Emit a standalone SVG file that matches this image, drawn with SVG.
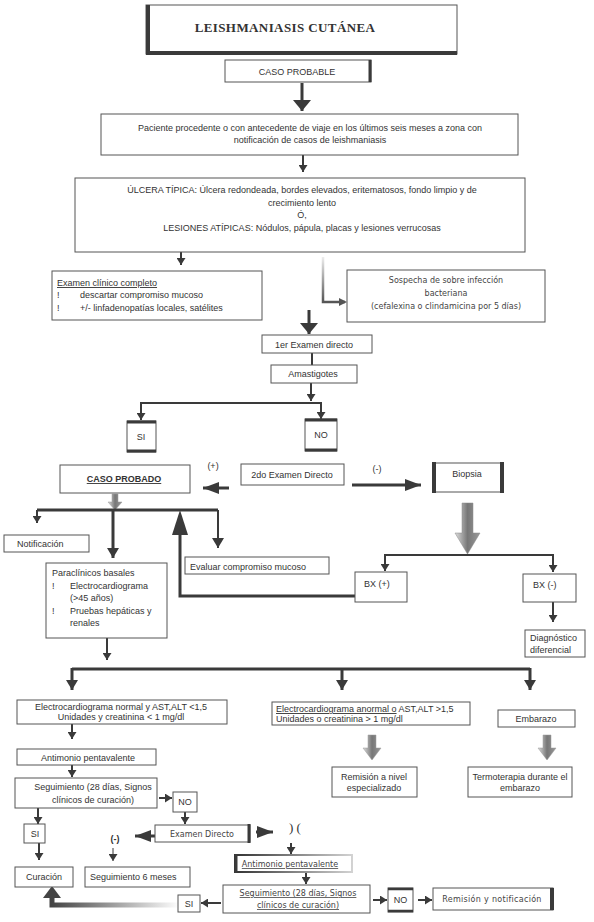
<svg xmlns="http://www.w3.org/2000/svg" width="594" height="922" viewBox="0 0 594 922">
<style>
.bx{fill:#fff;stroke:#555;stroke-width:1}
.hv{fill:none;stroke:#3a3a3a}
.t{font-family:"Liberation Sans",Arial,sans-serif;font-size:9px;fill:#333}
.d{font-family:"DejaVu Sans",sans-serif;font-size:8px;fill:#444}
.c{text-anchor:middle}
.u{text-decoration:underline}
.ln{fill:none;stroke:#3a3a3a;stroke-width:2}
.lt{fill:none;stroke:#3a3a3a;stroke-width:3}
</style>
<defs>
<marker id="ah" markerUnits="userSpaceOnUse" markerWidth="9" markerHeight="9" refX="7" refY="4.5" orient="auto"><path d="M0,0 L7,4.5 L0,9 z" fill="#3a3a3a"/></marker>
<marker id="av" markerUnits="userSpaceOnUse" markerWidth="10" markerHeight="12" refX="10" refY="6" orient="auto"><path d="M0,0 L10,6 L0,12 z" fill="#3a3a3a"/></marker>
<marker id="al" markerUnits="userSpaceOnUse" markerWidth="12" markerHeight="18" refX="11" refY="9" orient="auto"><path d="M0,0 L11,9 L0,18 z" fill="#3a3a3a"/></marker>
<marker id="am" markerUnits="userSpaceOnUse" markerWidth="16" markerHeight="12" refX="16" refY="6" orient="auto"><path d="M0,0 L16,6 L0,12 z" fill="#3a3a3a"/></marker>
<linearGradient id="gv" gradientUnits="userSpaceOnUse" x1="0" y1="257" x2="0" y2="302"><stop offset="0" stop-color="#eee"/><stop offset="1" stop-color="#555"/></linearGradient>
<linearGradient id="gb" x1="0" y1="0" x2="1" y2="0"><stop offset="0" stop-color="#ddd"/><stop offset="0.5" stop-color="#777"/><stop offset="1" stop-color="#999"/></linearGradient>
<linearGradient id="gh" gradientUnits="userSpaceOnUse" x1="52" y1="0" x2="180" y2="0"><stop offset="0" stop-color="#444"/><stop offset="1" stop-color="#fff"/></linearGradient>
<linearGradient id="ga" gradientUnits="userSpaceOnUse" x1="235" y1="0" x2="360" y2="0"><stop offset="0" stop-color="#333"/><stop offset="1" stop-color="#ddd"/></linearGradient>
</defs>

<g id="connectors">
<line class="lt" x1="302" y1="83" x2="302" y2="111" marker-end="url(#al)"/>
<line class="ln" x1="303" y1="155" x2="303" y2="172" marker-end="url(#ah)"/>
<line class="ln" x1="181" y1="252" x2="181" y2="265" marker-end="url(#ah)"/>
<path d="M323,257 V302 H345" fill="none" stroke="url(#gv)" stroke-width="2.5"/>
<path d="M339,298 L347,302 L339,306 z" fill="#555"/>
<line class="lt" x1="309" y1="310" x2="309" y2="334" marker-end="url(#al)"/>
<line class="ln" x1="312" y1="353" x2="312" y2="365"/>
<line class="ln" x1="311" y1="383" x2="311" y2="401" marker-end="url(#ah)"/>
<path class="ln" d="M141,419 V403 H321 V419"/>
<line class="ln" x1="141" y1="405" x2="141" y2="420" marker-end="url(#ah)"/>
<line class="ln" x1="321" y1="405" x2="321" y2="419" marker-end="url(#ah)"/>
<line class="lt" x1="229" y1="488" x2="203" y2="488" marker-end="url(#am)"/>
<line class="lt" x1="352" y1="485" x2="421" y2="485" marker-end="url(#am)"/>
<path d="M462,503 H473 V533 H480 L467.5,554 L455,533 H462 z" fill="url(#gb)" stroke="#888" stroke-width="0.5"/>
<path class="ln" d="M385,570 V555 H553 V570"/>
<line class="ln" x1="385" y1="556" x2="385" y2="571" marker-end="url(#ah)"/>
<line class="ln" x1="553" y1="556" x2="553" y2="572" marker-end="url(#ah)"/>
<line class="ln" x1="553" y1="602" x2="553" y2="622" marker-end="url(#ah)"/>
<path class="lt" d="M355,596 H180 V528"/>
<path d="M180,510 L188,535 L172,535 z" fill="#3a3a3a"/>
<path d="M112,494 H118 V502 H122 L115,510 L108,502 H112 z" fill="url(#gb)" stroke="#999" stroke-width="0.5"/>
<path class="lt" d="M37,510 H218"/>
<line class="ln" x1="37" y1="510" x2="37" y2="523" marker-end="url(#ah)"/>
<line class="lt" x1="113" y1="510" x2="113" y2="558" marker-end="url(#av)"/>
<line class="ln" x1="218" y1="510" x2="218" y2="548" marker-end="url(#av)"/>
<line class="ln" x1="107" y1="638" x2="107" y2="660" marker-end="url(#ah)"/>
<path class="lt" d="M72,669 H530"/>
<line class="lt" x1="72" y1="668" x2="72" y2="690" marker-end="url(#av)"/>
<line class="lt" x1="342" y1="668" x2="342" y2="690" marker-end="url(#av)"/>
<line class="lt" x1="530" y1="668" x2="530" y2="690" marker-end="url(#av)"/>
<line class="ln" x1="72" y1="724" x2="72" y2="739" marker-end="url(#ah)"/>
<line class="ln" x1="72" y1="765" x2="72" y2="777" marker-end="url(#ah)"/>
<line class="ln" x1="159" y1="798" x2="172" y2="798" marker-end="url(#ah)"/>
<line class="ln" x1="38" y1="808" x2="38" y2="824" marker-end="url(#ah)"/>
<line class="ln" x1="39" y1="843" x2="39" y2="860" marker-end="url(#ah)"/>
<line class="ln" x1="185" y1="812" x2="185" y2="824" marker-end="url(#ah)"/>
<line class="lt" x1="155" y1="836" x2="135" y2="836" marker-end="url(#am)"/>
<line x1="113" y1="848" x2="113" y2="861" stroke="#3a3a3a" stroke-width="1" marker-end="url(#ah)"/>
<line class="lt" x1="256" y1="832" x2="273" y2="832" marker-end="url(#am)"/>
<line class="ln" x1="291" y1="843" x2="291" y2="854" marker-end="url(#ah)"/>
<line class="ln" x1="306" y1="872" x2="306" y2="884" marker-end="url(#ah)"/>
<line class="ln" x1="373" y1="900" x2="387" y2="900" marker-end="url(#ah)"/>
<line class="ln" x1="418" y1="900" x2="432" y2="900" marker-end="url(#ah)"/>
<line class="ln" x1="221" y1="903" x2="201" y2="903" marker-end="url(#ah)"/>
<path d="M178,905 H52 V897" fill="none" stroke="url(#gh)" stroke-width="5"/>
<path d="M52,886 L61,898 L43,898 z" fill="#444"/>
<path d="M368,735 H376 V748 H381 L372,760 L363,748 H368 z" fill="url(#gb)" stroke="#999" stroke-width="0.5"/>
<path d="M543,735 H551 V748 H556 L547,760 L538,748 H543 z" fill="url(#gb)" stroke="#999" stroke-width="0.5"/>
</g>

<g id="titulo">
<rect class="bx" x="146" y="5" width="311" height="49" stroke-width="1.5"/>
<path class="hv" d="M148,5 V54 M146,53 H457" stroke-width="4"/>
<text x="285" y="32" class="c" font-family="'Liberation Serif',serif" font-weight="bold" font-size="13" letter-spacing="0.4" fill="#333">LEISHMANIASIS CUTÁNEA</text>
</g>

<g id="caso-probable">
<rect class="bx" x="225" y="60" width="146" height="22" stroke-width="2"/>
<path class="hv" d="M370,60 V82" stroke-width="3"/>
<text x="297" y="75" class="t c" font-size="11">CASO PROBABLE</text>
</g>

<g id="paciente">
<rect class="bx" x="101" y="114" width="417" height="41"/>
<text class="t c" x="310" y="131">Paciente procedente o con antecedente de viaje  en los últimos seis meses a zona con</text>
<text class="t c" x="310" y="143">notificación de casos de leishmaniasis</text>
</g>

<g id="ulcera">
<rect class="bx" x="75" y="178" width="450" height="74"/>
<text class="t c" x="302" y="193">ÚLCERA TÍPICA:  Úlcera redondeada, bordes elevados, eritematosos, fondo limpio y de</text>
<text class="t c" x="302" y="206">crecimiento lento</text>
<text class="t c" x="302" y="218">Ó,</text>
<text class="t c" x="302" y="231">LESIONES ATÍPICAS: Nódulos, pápula, placas y lesiones verrucosas</text>
</g>

<g id="examen-clinico">
<rect class="bx" x="52" y="271" width="210" height="49"/>
<text class="t u" x="57" y="286">Examen  clínico completo</text>
<text class="t" x="57" y="298">!</text><text class="t" x="80" y="298">descartar compromiso mucoso</text>
<text class="t" x="57" y="311">!</text><text class="t" x="80" y="311">+/- linfadenopatías locales, satélites</text>
</g>

<g id="sospecha">
<rect class="bx" x="347" y="270" width="198" height="52"/>
<text class="d c" x="446" y="283" font-size="10">Sospecha de sobre infección</text>
<text class="d c" x="446" y="296" font-size="10">bacteriana</text>
<text class="d c" x="446" y="309" font-size="10">(cefalexina o clindamicina por 5 días)</text>
</g>

<g id="examen1">
<rect class="bx" x="262" y="335" width="110" height="18"/>
<text class="t c" x="314" y="348" font-size="10.5">1er Examen directo</text>
</g>

<g id="amastigotes">
<rect class="bx" x="271" y="365" width="86" height="18"/>
<text class="t c" x="313" y="377">Amastigotes</text>
</g>

<g id="si1">
<rect class="bx" x="127" y="421" width="29" height="31"/>
<path class="hv" d="M127,422 H156 M127,451 H156" stroke-width="3"/>
<text class="t c" x="141" y="440" font-size="9.5">SI</text>
</g>

<g id="no1">
<rect class="bx" x="305" y="419" width="32" height="32"/>
<path class="hv" d="M305,420 H337 M305,450 H337" stroke-width="3"/>
<text class="t c" x="321" y="438" font-size="9.5">NO</text>
</g>

<g id="caso-probado">
<rect class="bx" x="60" y="465" width="130" height="28"/>
<text class="t c u" x="124" y="482" font-size="9.8" font-weight="bold">CASO PROBADO</text>
<text class="t c" x="213" y="469" font-size="9">(+)</text>
</g>

<g id="examen2">
<rect class="bx" x="241" y="464" width="103" height="21"/>
<text class="t c" x="292" y="478" font-size="7.3">2do Examen Directo</text>
<text class="t c" x="377" y="472" font-size="9">(-)</text>
</g>

<g id="biopsia">
<rect class="bx" x="433" y="463" width="70" height="29" stroke="#333" stroke-width="3"/>
<path class="hv" d="M434,462 V493 M502,462 V493" stroke-width="4"/>
<text class="t c" x="467" y="477" font-size="8">Biopsia</text>
</g>

<g id="notificacion">
<rect class="bx" x="4" y="535" width="85" height="17"/>
<text class="t" x="17" y="546.5" font-size="7.5">Notificación</text>
</g>

<g id="evaluar">
<rect class="bx" x="185" y="557" width="144" height="17"/>
<text class="t" x="190" y="569.5" font-size="10">Evaluar compromiso mucoso</text>
</g>

<g id="bx-pos">
<rect class="bx" x="355" y="572" width="52" height="30"/>
<text class="t" x="364" y="587" font-size="8">BX (+)</text>
</g>

<g id="bx-neg">
<rect class="bx" x="523" y="574" width="53" height="28"/>
<text class="t" x="533" y="588" font-size="8">BX (-)</text>
</g>

<g id="diagnostico">
<rect class="bx" x="525" y="630" width="60" height="27"/>
<text class="t" x="530" y="641" font-size="8.5">Diagnóstico</text>
<text class="t" x="530" y="653" font-size="8.5">diferencial</text>
</g>

<g id="paraclinicos">
<rect class="bx" x="46" y="563" width="121" height="75"/>
<text class="t" x="52" y="576" font-size="9.3">Paraclínicos basales</text>
<text class="t" x="52" y="589" font-size="9.3">!</text><text class="t" x="70" y="589" font-size="9.3">Electrocardiograma</text>
<text class="t" x="70" y="601" font-size="9.3">(&gt;45 años)</text>
<text class="t" x="52" y="614" font-size="9.3">!</text><text class="t" x="70" y="614" font-size="9.3">Pruebas hepáticas y</text>
<text class="t" x="70" y="626" font-size="9.3">renales</text>
</g>

<g id="ecg-normal">
<rect class="bx" x="17" y="700" width="210" height="24"/>
<text class="t c" x="121" y="710">Electrocardiograma normal y AST,ALT &lt;1,5</text>
<text class="t c" x="121" y="720">Unidades y creatinina &lt; 1 mg/dl</text>
</g>

<g id="ecg-anormal">
<rect class="bx" x="272" y="702" width="198" height="23"/>
<text class="t" x="276" y="712"><tspan class="u">Electrocardiograma anormal o</tspan>  AST,ALT &gt;1,5</text>
<text class="t" x="276" y="722">Unidades o creatinina &gt; 1 mg/dl</text>
</g>

<g id="embarazo">
<rect class="bx" x="498" y="710" width="77" height="17"/>
<text class="t c" x="536" y="722" font-size="10">Embarazo</text>
</g>

<g id="remision-nivel">
<rect class="bx" x="332" y="767" width="85" height="30"/>
<text class="t c" x="374" y="780">Remisión a nivel</text>
<text class="t c" x="374" y="791">especializado</text>
</g>

<g id="termoterapia">
<rect class="bx" x="468" y="767" width="104" height="30"/>
<text class="t c" x="520" y="780">Termoterapia durante el</text>
<text class="t c" x="520" y="791">embarazo</text>
</g>

<g id="antimonio1">
<rect class="bx" x="17" y="749" width="139" height="16"/>
<text class="t c" x="88" y="761" font-size="10.5">Antimonio pentavalente</text>
</g>

<g id="seguimiento1">
<rect class="bx" x="15" y="778" width="142" height="30"/>
<text class="t c" x="93" y="790" font-size="10.5">Seguimiento (28 días, Signos</text>
<text class="t c" x="93" y="803" font-size="10.5">clínicos de curación)</text>
</g>

<g id="no2">
<rect class="bx" x="173" y="792" width="24" height="20"/>
<text class="t c" x="185" y="805" font-size="7.5">NO</text>
</g>

<g id="si2">
<rect class="bx" x="24" y="824" width="21" height="19"/>
<text class="t c" x="35" y="837" font-size="8">SI</text>
</g>

<g id="curacion">
<rect class="bx" x="15" y="867" width="58" height="20"/>
<text class="t c" x="44" y="880" font-size="8.3">Curación</text>
</g>

<g id="examen-directo">
<rect class="bx" x="155" y="825" width="95" height="17" stroke="#333" stroke-width="2"/>
<path class="hv" d="M249,824 V843" stroke-width="3"/>
<text class="d c" x="202" y="837" font-size="9">Examen Directo</text>
<text x="115" y="842" class="t c" font-size="11" font-weight="bold">(-)</text>
<text x="295" y="832" class="c" font-family="'Liberation Serif',serif" font-size="13" fill="#333">)  (</text>
</g>

<g id="seguimiento6">
<rect class="bx" x="85" y="867" width="105" height="20"/>
<text class="t" x="90" y="880" font-size="7.5">Seguimiento 6 meses</text>
</g>

<g id="antimonio2">
<rect x="235" y="855" width="117" height="17" fill="#fff" stroke="url(#ga)" stroke-width="2"/>
<path class="hv" d="M236,854 V873" stroke-width="3"/>
<text class="d c u" x="290" y="867" font-size="7.5">Antimonio pentavalente</text>
</g>

<g id="seguimiento2">
<rect class="bx" x="223" y="885" width="147" height="28"/>
<text class="d c u" x="298" y="896">Seguimiento (28 días, Signos</text>
<text class="d c u" x="298" y="908">clínicos de curación)</text>
</g>

<g id="si3">
<rect class="bx" x="178" y="895" width="22" height="17"/>
<text class="t c" x="189" y="907" font-size="8">SI</text>
</g>

<g id="no3">
<rect class="bx" x="388" y="888" width="25" height="24"/>
<path class="hv" d="M388,889 H413 M388,911 H413" stroke-width="2.5"/>
<text class="t c" x="400.5" y="903" font-size="8">NO</text>
</g>

<g id="remision-notificacion">
<rect class="bx" x="433" y="888" width="120" height="22"/>
<path class="hv" d="M552,888 V910" stroke-width="4"/>
<text class="d c" x="492" y="902" font-size="7.3" letter-spacing="0.3">Remisión y notificación</text>
</g>
</svg>
